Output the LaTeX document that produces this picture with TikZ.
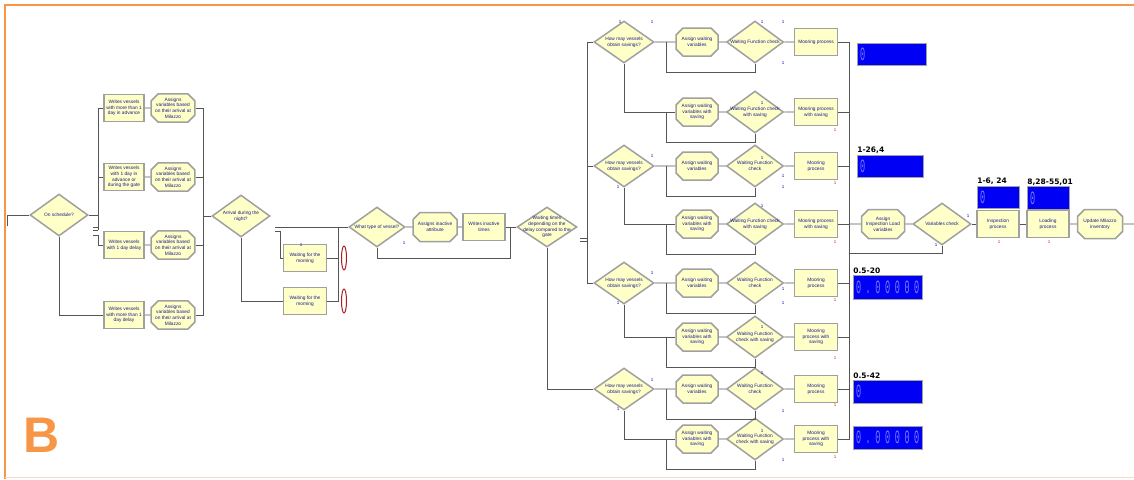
\documentclass[tikz,border=0pt]{standalone}
\usepackage{graphicx}
\usepackage{fontspec}
\setmainfont{Liberation Sans}
\setmonofont{Liberation Mono}
\newfontfamily\labfont{DejaVu Sans}
\usetikzlibrary{positioning,shapes.geometric,shapes.misc}
\definecolor{col1}{RGB}{255,255,200}
\definecolor{col2}{RGB}{160,160,160}
\definecolor{col3}{RGB}{25,25,140}
\definecolor{col4}{RGB}{85,85,85}
\definecolor{col5}{RGB}{0,0,245}
\definecolor{col6}{RGB}{125,125,255}
\definecolor{col7}{RGB}{247,150,70}
\definecolor{col8}{RGB}{170,30,30}
\newcommand{\boxfont}{\fontsize{4.8}{5.6}\selectfont}
\newcommand{\digits}[1]{\scalebox{1}[2.2]{\fontsize{8.5}{8.5}\selectfont\ttfamily #1}}
\newcommand{\dgap}{\hspace{4.6pt}}
\tikzstyle{proc}=[draw=col2, line width=1.5pt, fill=col1, align=center, text=col3, font=\boxfont, minimum width=42pt, minimum height=27pt, inner sep=0.5pt]
\tikzstyle{asgn}=[proc, chamfered rectangle, chamfered rectangle xsep=3.5pt, chamfered rectangle ysep=3.5pt, minimum height=28pt]
\tikzstyle{dec}=[diamond, draw=col2, line width=1.5pt, fill=col1, minimum width=58pt, minimum height=42pt, inner sep=0pt]
\tikzstyle{dtxt}=[align=center, inner sep=0pt, text=col3, font=\boxfont]
\tikzstyle{cnt}=[draw=col2, line width=0.6pt, fill=col5, text=col6, minimum width=69pt, minimum height=23pt, text width=63pt, inner sep=3pt, align=left]
\tikzstyle{clab}=[font=\labfont\fontsize{7.5}{7.5}\selectfont\bfseries, inner sep=0.5pt, anchor=south west]
\tikzstyle{que}=[ellipse, draw=col8, line width=1pt, fill=white, minimum width=5pt, minimum height=24pt, inner sep=0pt]
\tikzstyle{tk}=[font=\fontsize{4.5}{4.5}\selectfont, text=blue!55!col3, inner sep=0pt]
\tikzstyle{rtk}=[tk, text=col8!70!orange]
\tikzstyle{conn}=[draw=col4, line width=0.7pt]
\begin{document}
\begin{tikzpicture}[x=1pt,y=-1pt,node distance=50pt,font=\boxfont]
\useasboundingbox (0,0) rectangle (1134,479);
% frame and panel letter
\draw [col7, line width=1.6pt] (1134,5) -- (5,5) -- (5,479);
\draw [col7!35, line width=1pt] (5,477) -- (1134,477);
\node [font=\fontsize{50}{50}\selectfont\bfseries, text=col7, inner sep=0pt] (panel) at (42,435) {B};

% arrival of the vessels
\coordinate (in) at (7,226);
\node [dec, label={[dtxt]center:On schedule?}] (sched) at (59,215) {};
\node [proc, minimum width=40pt] (w1) at (124,108) {Writes vessels\\with more than 1\\day in advance};
\node [proc, minimum width=40pt] (w2) [below of=w1, node distance=69pt] {Writes vessels\\with 1 day in\\advance or\\during the gate};
\node [proc, minimum width=40pt] (w3) [below of=w2, node distance=68pt] {Writes vessels\\with 1 day delay};
\node [proc, minimum width=40pt] (w4) [below of=w3, node distance=70pt] {Writes vessels\\with more than 1\\day delay};
\node [asgn, minimum width=43pt] (v1) [right of=w1, node distance=49pt] {Assigns\\variables based\\on their arrival at\\Milazzo};
\node [asgn, minimum width=43pt] (v2) [right of=w2, node distance=49pt] {Assigns\\variables based\\on their arrival at\\Milazzo};
\node [asgn, minimum width=43pt] (v3) [right of=w3, node distance=49pt] {Assigns\\variables based\\on their arrival at\\Milazzo};
\node [asgn, minimum width=43pt] (v4) [right of=w4, node distance=49pt] {Assigns\\variables based\\on their arrival at\\Milazzo};
\coordinate (b1) at (98,215);
\coordinate (b2) at (98,235);
\coordinate (b3) at (203,216);
\draw [conn] (in) |- (sched);
\draw [conn] (sched.east) -- (b1) |- (w1);
\draw [conn] (b1) |- (w2);
\draw [conn] (b1) -- ++(0,15);
\draw [conn] (93,227) -- ++(5,0) (93,230) -- ++(5,0);
\draw [conn] (b2) ++(-5,0) -- (b2) |- (w3);
\draw [conn] (sched.south) |- (w4);
\draw [conn] (w1) -- (v1);
\draw [conn] (w2) -- (v2);
\draw [conn] (w3) -- (v3);
\draw [conn] (w4) -- (v4);
\draw [conn] (v1) -| (b3);
\draw [conn] (v2) -| (b3);
\draw [conn] (v3) -| (b3);
\draw [conn] (v4) -| (b3);

% night arrivals and vessel type
\node [dec, label={[dtxt]center:Arrival during the\\night?}] (night) at (241,216) {};
\coordinate (e1) at (275,227);
\coordinate (e2) at (275,231);
\node [proc, minimum width=43pt] (m1) at (305,258) {Waiting for the\\morning};
\node [proc, minimum width=43pt] (m2) [below of=m1, node distance=43pt] {Waiting for the\\morning};
\node [que] (q1) [right of=m1, node distance=39pt] {};
\node [que] (q2) [right of=m2, node distance=39pt] {};
\node [dec, minimum width=56pt, minimum height=40pt, label={[dtxt]center:What type of vessel?}] (type) at (377,227) {};
\node [asgn, minimum width=44pt, minimum height=29pt] (inact) [right of=type, node distance=58pt] {Assigns inactive\\attribute};
\node [proc] (times) [right of=inact, node distance=49pt] {Writes inactive\\times};
\node [dec, minimum width=60pt, minimum height=40pt, label={[dtxt]center:Waiting times\\depending on the\\delay compared to the\\gate}] (gate) [right of=times, node distance=63pt] {};
\coordinate (b4) at (338,227);
\coordinate (b5) at (510,228);
\coordinate (b6) at (510,258);
\draw [conn] (b3) -- (night);
\draw [conn] (e1) -- (type);
\draw [conn] (e2) -- ++(5,0) |- (m1);
\draw [conn] (night.south) |- (m2);
\draw [conn] (m1) -| (b4);
\draw [conn] (m2) -| (b4);
\draw [conn] (type) -- (inact);
\draw [conn] (inact) -- (times);
\draw [conn] (times) -- (gate);
\draw [conn] (type.south) |- (b6) -- (b5);

% savings, four groups
\node [dec, minimum width=60pt, label={[dtxt]center:How may vessels\\obtain savings?}] (h1) at (624,42) {};
\node [asgn] (aw1) [right of=h1, node distance=73pt] {Assign waiting\\variables};
\node [dec, minimum width=57pt, label={[dtxt]center:Waiting Function check}] (fc1) [right of=aw1, node distance=58pt] {};
\node [proc, minimum width=43pt] (mp1) [right of=fc1, node distance=61pt] {Mooring process};
\node [asgn] (as1) [below of=aw1, node distance=70pt] {Assign waiting\\variables with\\saving};
\node [dec, minimum width=57pt, label={[dtxt]center:Waiting Function check\\with saving}] (fs1) [right of=as1, node distance=58pt] {};
\node [proc, minimum width=43pt] (ms1) [right of=fs1, node distance=61pt] {Mooring process\\with saving};

\node [dec, minimum width=60pt, label={[dtxt]center:How may vessels\\obtain savings?}] (h2) at (624,166) {};
\node [asgn] (aw2) [right of=h2, node distance=73pt] {Assign waiting\\variables};
\node [dec, minimum width=57pt, label={[dtxt]center:Waiting Function\\check}] (fc2) [right of=aw2, node distance=58pt] {};
\node [proc, minimum width=43pt] (mp2) [right of=fc2, node distance=61pt] {Mooring\\process};
\node [asgn] (as2) [below of=aw2, node distance=58pt] {Assign waiting\\variables with\\saving};
\node [dec, minimum width=57pt, label={[dtxt]center:Waiting Function check\\with saving}] (fs2) [right of=as2, node distance=58pt] {};
\node [proc, minimum width=43pt] (ms2) [right of=fs2, node distance=61pt] {Mooring process\\with saving};

\node [dec, minimum width=60pt, label={[dtxt]center:How may vessels\\obtain savings?}] (h3) at (624,283) {};
\node [asgn] (aw3) [right of=h3, node distance=73pt] {Assign waiting\\variables};
\node [dec, minimum width=57pt, label={[dtxt]center:Waiting Function\\check}] (fc3) [right of=aw3, node distance=58pt] {};
\node [proc, minimum width=43pt] (mp3) [right of=fc3, node distance=61pt] {Mooring\\process};
\node [asgn] (as3) [below of=aw3, node distance=54pt] {Assign waiting\\variables with\\saving};
\node [dec, minimum width=57pt, label={[dtxt]center:Waiting Function\\check with saving}] (fs3) [right of=as3, node distance=58pt] {};
\node [proc, minimum width=43pt] (ms3) [right of=fs3, node distance=61pt] {Mooring\\process with\\saving};

\node [dec, minimum width=60pt, label={[dtxt]center:How may vessels\\obtain savings?}] (h4) at (624,389) {};
\node [asgn] (aw4) [right of=h4, node distance=73pt] {Assign waiting\\variables};
\node [dec, minimum width=57pt, label={[dtxt]center:Waiting Function\\check}] (fc4) [right of=aw4, node distance=58pt] {};
\node [proc, minimum width=43pt] (mp4) [right of=fc4, node distance=61pt] {Mooring\\process};
\node [asgn] (as4) [below of=aw4, node distance=50pt] {Assign waiting\\variables with\\saving};
\node [dec, minimum width=57pt, label={[dtxt]center:Waiting Function\\check with saving}] (fs4) [right of=as4, node distance=58pt] {};
\node [proc, minimum width=43pt] (ms4) [right of=fs4, node distance=61pt] {Mooring\\process with\\saving};

\coordinate (b7) at (587,240);
\coordinate (b8) at (849,224);
\draw [conn] (580,238) -- ++(7,0) (580,241) -- ++(7,0);
\draw [conn] (b7) |- (h1);
\draw [conn] (b7) |- (h2);
\draw [conn] (b7) |- (h3);
\draw [conn] (gate.south) |- (h4);
\draw [conn] (h1) -- (aw1);
\draw [conn] (h2) -- (aw2);
\draw [conn] (h3) -- (aw3);
\draw [conn] (h4) -- (aw4);
\draw [conn] (h1.south) |- (as1);
\draw [conn] (h2.south) |- (as2);
\draw [conn] (h3.south) |- (as3);
\draw [conn] (h4.south) |- (as4);
\draw [conn] (aw1) -- (fc1) (fc1) -- (mp1) (as1) -- (fs1) (fs1) -- (ms1);
\draw [conn] (aw2) -- (fc2) (fc2) -- (mp2) (as2) -- (fs2) (fs2) -- (ms2);
\draw [conn] (aw3) -- (fc3) (fc3) -- (mp3) (as3) -- (fs3) (fs3) -- (ms3);
\draw [conn] (aw4) -- (fc4) (fc4) -- (mp4) (as4) -- (fs4) (fs4) -- (ms4);
\draw [conn] (fc1.south) -- ++(0,9) -| ([xshift=-9pt]aw1.west);
\draw [conn] (fs1.south) -- ++(0,9) -| ([xshift=-9pt]as1.west);
\draw [conn] (fc2.south) -- ++(0,9) -| ([xshift=-9pt]aw2.west);
\draw [conn] (fs2.south) -- ++(0,9) -| ([xshift=-9pt]as2.west);
\draw [conn] (fc3.south) -- ++(0,9) -| ([xshift=-9pt]aw3.west);
\draw [conn] (fs3.south) -- ++(0,9) -| ([xshift=-9pt]as3.west);
\draw [conn] (fc4.south) -- ++(0,9) -| ([xshift=-9pt]aw4.west);
\draw [conn] (fs4.south) -- ++(0,9) -| ([xshift=-9pt]as4.west);
\draw [conn] (mp1) -| (b8);
\draw [conn] (ms1) -| (b8);
\draw [conn] (mp2) -| (b8);
\draw [conn] (ms2) -| (b8);
\draw [conn] (mp3) -| (b8);
\draw [conn] (ms3) -| (b8);
\draw [conn] (mp4) -| (b8);
\draw [conn] (ms4) -| (b8);

% inspection and loading
\node [asgn, minimum width=43pt, minimum height=29pt] (ail) at (883,224) {Assign\\Inspection Load\\variables};
\node [dec, label={[dtxt]center:Variables check}] (vc) [right of=ail, node distance=59pt] {};
\node [proc] (ip) [right of=vc, node distance=56pt] {Inspection\\process};
\node [proc] (lp) [right of=ip, node distance=50pt] {Loading\\process};
\node [asgn, minimum width=45pt, minimum height=29pt] (um) [right of=lp, node distance=52pt] {Update Milazzo\\inventory};
\coordinate (out) at (1134,224);
\draw [conn] (b8) -- (ail);
\draw [conn] (ail) -- (vc);
\draw [conn] (vc) -- (ip);
\draw [conn] (ip) -- (lp);
\draw [conn] (lp) -- (um);
\draw [conn] (um) -- (out);
\draw [conn] (vc.south) -- ++(0,8) -| (b8);

% counters
\node [cnt, minimum height=22pt] (c1) at (891.5,54) {\digits{0}};
\node [cnt, minimum width=66pt, text width=60pt, minimum height=22pt] (c2) at (890,166) {\digits{0}};
\node [cnt, minimum height=24pt] (c3) at (887.5,287) {\digits{0\dgap.\dgap0\dgap0\dgap0\dgap0\dgap0}};
\node [cnt] (c4) at (887.5,391.5) {\digits{0}};
\node [cnt] (c5) at (887.5,437.5) {\digits{0\dgap.\dgap0\dgap0\dgap0\dgap0\dgap0}};
\node [cnt, minimum width=42pt, text width=36pt, minimum height=22pt] (c6) [above of=ip, node distance=27pt] {\digits{0}};
\node [cnt, minimum width=42pt, text width=36pt] (c7) [above of=lp, node distance=26pt] {\digits{0}};
\node [clab] (l2) at (c2.north west) {1-26,4};
\node [clab] (l3) at (c3.north west) {0.5-20};
\node [clab] (l4) at (c4.north west) {0.5-42};
\node [clab] (l6) at (c6.north west) {1-6, 24};
\node [clab] (l7) at (c7.north west) {8,28-55,01};

% exit marks
\foreach \p [count=\i] in {(620,22),(652,22),(762,22),(783,22),(783,63),(762,103),
  (652,156),(618,187),(762,158),(783,176),(783,187),(762,206),
  (652,273),(618,303),(783,289),(783,303),(762,327),
  (652,380),(618,409),(762,373),(783,411),(762,431),(783,460),
  (968,216),(936,245),(301,245),(404,243)}
  \node [tk] (t\i) at \p {1};
\foreach \p [count=\i] in {(835,130),(835,183),(835,242),(835,300),(835,358),(835,405),(835,457),(999,242),(1049,242)}
  \node [rtk] (r\i) at \p {1};
\end{tikzpicture}
\end{document}
